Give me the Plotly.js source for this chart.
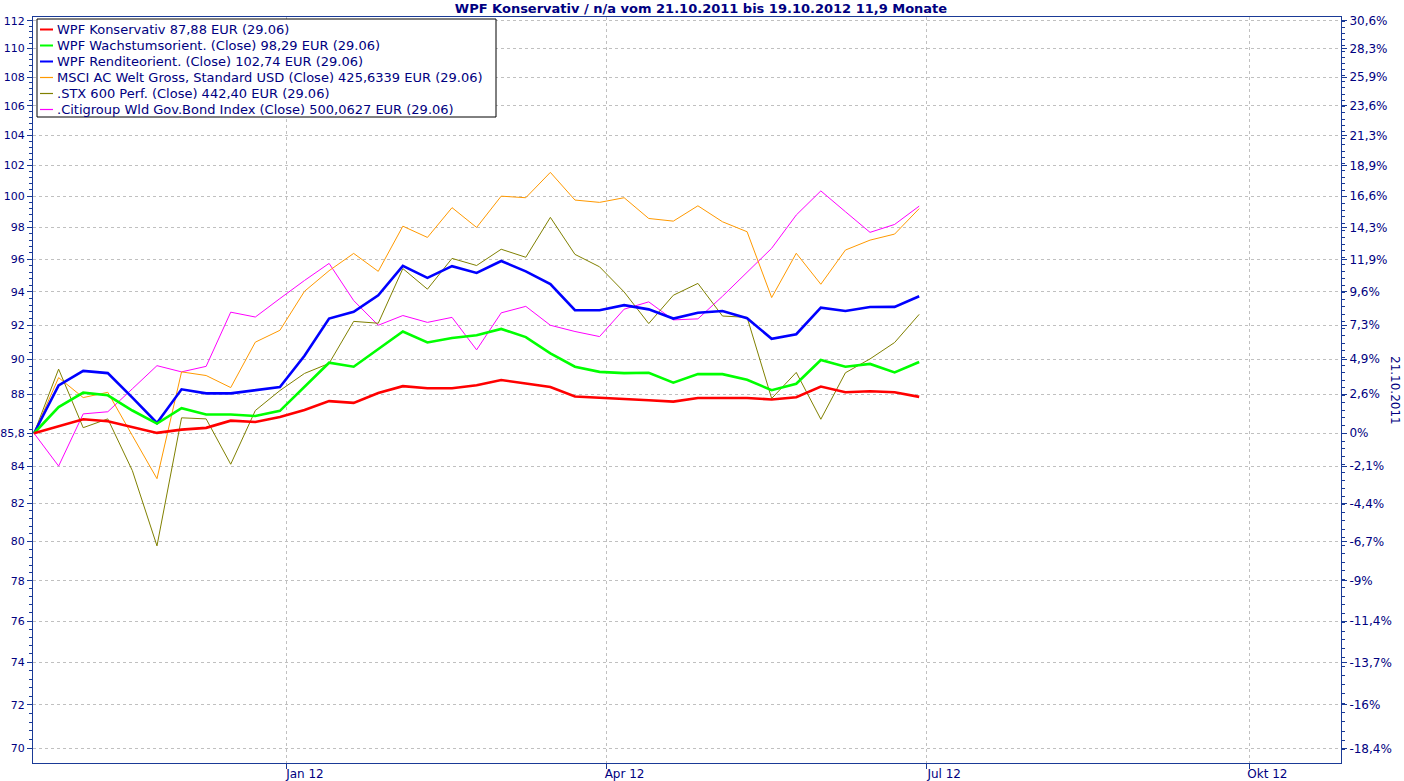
<!DOCTYPE html>
<html>
<head>
<meta charset="utf-8">
<script src="https://cdn.plot.ly/plotly-3.0.1.min.js"></script>
<style>html,body{margin:0;padding:0;background:#fff;}#chart{width:1404px;height:781px;}</style>
</head>
<body>
<div id="chart"></div>
<script>
// weekly dates (Fridays)
const dates = ["2011-10-21","2011-10-28","2011-11-04","2011-11-11","2011-11-18","2011-11-25","2011-12-02","2011-12-09","2011-12-16","2011-12-23","2011-12-30",
"2012-01-06","2012-01-13","2012-01-20","2012-01-27","2012-02-03","2012-02-10","2012-02-17","2012-02-24","2012-03-02","2012-03-09","2012-03-16","2012-03-23","2012-03-30",
"2012-04-06","2012-04-13","2012-04-20","2012-04-27","2012-05-04","2012-05-11","2012-05-18","2012-05-25","2012-06-01","2012-06-08","2012-06-15","2012-06-22","2012-06-29"];

const konservativ = [85.8,86.2,86.58,86.47,86.15,85.82,86.0,86.1,86.5,86.43,86.7,87.1,87.6,87.5,88.06,88.45,88.33,88.33,88.5,88.8,88.6,88.4,87.86,87.8,87.7,87.65,87.57,87.78,87.78,87.78,87.69,87.82,88.43,88.1,88.16,88.1,87.84];
const wachstum = [85.8,87.26,88.08,87.93,87.07,86.34,87.2,86.85,86.85,86.76,87.05,88.4,89.8,89.57,90.6,91.63,90.98,91.25,91.41,91.78,91.3,90.35,89.57,89.27,89.2,89.22,88.65,89.14,89.14,88.82,88.22,88.59,89.96,89.57,89.73,89.24,89.84];
const rendite = [85.8,88.49,89.33,89.2,87.8,86.37,88.27,88.04,88.04,88.24,88.4,90.2,92.4,92.8,93.8,95.6,94.86,95.58,95.16,95.9,95.26,94.48,92.9,92.9,93.2,92.95,92.4,92.75,92.85,92.42,91.2,91.47,93.05,92.85,93.09,93.1,93.74];
const msci = [85.8,88.94,87.8,88.1,85.67,83.32,89.27,89.06,88.37,91.0,91.7,94.04,95.3,96.37,95.26,98.08,97.37,99.26,98.0,100.0,99.9,101.55,99.75,99.6,99.9,98.57,98.4,99.38,98.36,97.73,93.66,96.38,94.47,96.58,97.2,97.58,99.2];
const stx600 = [85.8,89.43,86.11,86.6,83.75,79.78,86.66,86.6,84.1,87.07,88.2,89.18,89.76,92.23,92.12,95.43,94.17,96.06,95.62,96.63,96.13,98.64,96.31,95.54,94.0,92.1,93.8,94.52,92.55,92.47,87.75,89.24,86.58,89.22,90.02,90.98,92.65];
const citigroup = [85.8,84.0,86.88,87.0,88.3,89.63,89.27,89.59,92.78,92.49,93.6,94.7,95.75,93.48,92.0,92.58,92.17,92.47,90.55,92.74,93.13,92.0,91.63,91.33,92.96,93.4,92.32,92.38,93.74,95.22,96.69,98.79,100.34,99.0,97.69,98.19,99.36];

const seriesNames = [
  "WPF Konservativ 87,88 EUR (29.06)",
  "WPF Wachstumsorient. (Close) 98,29 EUR (29.06)",
  "WPF Renditeorient. (Close) 102,74 EUR (29.06)",
  "MSCI AC Welt Gross, Standard USD (Close) 425,6339 EUR (29.06)",
  ".STX 600 Perf. (Close) 442,40 EUR (29.06)",
  ".Citigroup Wld Gov.Bond Index (Close) 500,0627 EUR (29.06)"
];
const seriesValues = [konservativ, wachstum, rendite, msci, stx600, citigroup];
const seriesColors = ["#ff0000", "#00ff00", "#0000ff", "#ff9900", "#808000", "#ff00ff"];
const seriesWidths = [2.6, 2.6, 2.6, 1, 1, 1];

const leftTickVals = [70,72,74,76,78,80,82,84,85.8,88,90,92,94,96,98,100,102,104,106,108,110,112];
const leftTickText = ["70","72","74","76","78","80","82","84","85,8","88","90","92","94","96","98","100","102","104","106","108","110","112"];
const rightTickText = ["-18,4%","-16%","-13,7%","-11,4%","-9%","-6,7%","-4,4%","-2,1%","0%","2,6%","4,9%","7,3%","9,6%","11,9%","14,3%","16,6%","18,9%","21,3%","23,6%","25,9%","28,3%","30,6%"];

const xTickVals = ["2012-01-01","2012-04-01","2012-07-01","2012-10-01"];
const xTickText = ["Jan 12","Apr 12","Jul 12","Okt 12"];

// minor tick positions (axis decoration)
const minorLeft = [];
for (let v = 70; v <= 112.001; v += 0.4) minorLeft.push(+v.toFixed(2));
const minorRight = [];
for (let p = -18.5; p <= 30.6; p += 0.5) minorRight.push(85.8 * (1 + p / 100));

const navy = "#000080";
const axisBlue = "#1a3a96";
const font = "DejaVu Sans, Verdana, sans-serif";

// plot area geometry (pixels)
const W = 1404, H = 781, ML = 33, MR = 63, MT = 17, MB = 18;
const PW = W - ML - MR, PH = H - MT - MB;
const px = x => (x - ML) / PW;
const py = y => 1 - (y - MT) / PH;

// traces: draw thin series first, thick ones on top
const order = [5, 4, 3, 2, 1, 0];
const traces = order.map(i => ({
  type: "scatter", mode: "lines", x: dates, y: seriesValues[i], name: seriesNames[i],
  line: {color: seriesColors[i], width: seriesWidths[i]}, hoverinfo: "skip", showlegend: false
}));
traces.push({type: "scatter", mode: "lines", x: dates, y: konservativ, yaxis: "y2",
  line: {width: 0, color: "rgba(0,0,0,0)"}, showlegend: false, hoverinfo: "skip"});

// custom legend (box, line samples, texts)
const shapes = [{
  type: "rect", xref: "paper", yref: "paper", layer: "above",
  x0: px(37), x1: px(496), y0: py(117), y1: py(19),
  line: {color: "#000000", width: 1}, fillcolor: "#ffffff"
}];
const annotations = [];
seriesNames.forEach((name, i) => {
  const yc = 29.5 + 16 * i;
  shapes.push({type: "line", xref: "paper", yref: "paper", layer: "above",
    x0: px(40), x1: px(53), y0: py(yc), y1: py(yc),
    line: {color: seriesColors[i], width: seriesWidths[i] > 1 ? 2 : 1.2}});
  annotations.push({text: name, showarrow: false, xref: "paper", yref: "paper",
    x: px(55), y: py(yc), xanchor: "left", yanchor: "middle",
    font: {family: font, size: 13, color: navy}});
});
annotations.push({
  text: "21.10.2011", textangle: 90, showarrow: false,
  xref: "paper", yref: "paper", x: px(1395), y: py(390), xanchor: "center", yanchor: "middle",
  font: {family: font, size: 12, color: navy}
});

const yRange = [Math.log10(69.34), Math.log10(112.27)];

const layout = {
  width: W, height: H,
  margin: {l: ML, r: MR, t: MT, b: MB, pad: 0},
  paper_bgcolor: "#ffffff", plot_bgcolor: "#ffffff",
  font: {family: font, size: 12, color: navy},
  title: {
    text: "<b>WPF Konservativ / n/a vom 21.10.2011 bis 19.10.2012 11,9 Monate</b>",
    font: {family: font, size: 13, color: navy},
    x: 701 / W, xref: "container", xanchor: "center",
    y: 1 - 8 / H, yref: "container", yanchor: "middle",
    pad: {t: 0, b: 0, l: 0, r: 0}
  },
  showlegend: false,
  xaxis: {
    type: "date", range: ["2011-10-20 17:00", "2012-10-27 02:00"],
    tickmode: "array", tickvals: xTickVals, ticktext: xTickText,
    ticks: "outside", ticklen: 5, tickcolor: axisBlue, tickwidth: 1,
    ticklabelshift: 18, ticklabelstandoff: -5,
    showline: true, linecolor: axisBlue, linewidth: 1, mirror: true,
    showgrid: true, gridcolor: "#c0c0c0", griddash: "3px,3px", gridwidth: 1,
    zeroline: false, tickfont: {family: font, size: 12, color: navy}
  },
  yaxis: {
    type: "log", range: yRange,
    tickmode: "array", tickvals: leftTickVals, ticktext: leftTickText,
    ticks: "outside", ticklen: 5, tickcolor: axisBlue, tickwidth: 1,
    showline: true, linecolor: axisBlue, linewidth: 1,
    showgrid: true, gridcolor: "#c0c0c0", griddash: "3px,3px", gridwidth: 1,
    zeroline: false, tickfont: {family: font, size: 11, color: navy},
    minor: {tickmode: "array", tickvals: minorLeft, ticks: "outside", ticklen: 3, tickcolor: axisBlue, showgrid: false}
  },
  yaxis2: {
    type: "log", range: yRange, overlaying: "y", side: "right",
    tickmode: "array", tickvals: leftTickVals, ticktext: rightTickText,
    ticks: "outside", ticklen: 5, tickcolor: axisBlue, tickwidth: 1,
    showline: true, linecolor: axisBlue, linewidth: 1,
    showgrid: false, zeroline: false, tickfont: {family: font, size: 12, color: navy},
    minor: {tickmode: "array", tickvals: minorRight, ticks: "outside", ticklen: 3, tickcolor: axisBlue, showgrid: false}
  },
  shapes: shapes,
  annotations: annotations
};

Plotly.newPlot("chart", traces, layout, {displayModeBar: false, staticPlot: true});
</script>
</body>
</html>
